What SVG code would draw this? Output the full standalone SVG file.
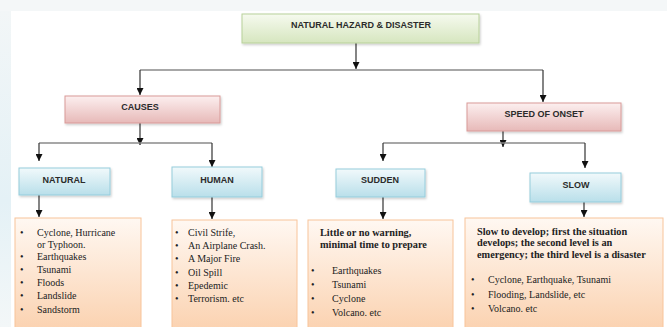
<svg xmlns="http://www.w3.org/2000/svg" width="667" height="327" viewBox="0 0 667 327">
<defs>
<linearGradient id="gGreen" x1="0" y1="0" x2="0" y2="1"><stop offset="0" stop-color="#f6faef"/><stop offset="1" stop-color="#d6e6bf"/></linearGradient>
<linearGradient id="gRed" x1="0" y1="0" x2="0" y2="1"><stop offset="0" stop-color="#fcefef"/><stop offset="1" stop-color="#e7b9b8"/></linearGradient>
<linearGradient id="gBlue" x1="0" y1="0" x2="0" y2="1"><stop offset="0" stop-color="#f1f9fb"/><stop offset="1" stop-color="#b9dfea"/></linearGradient>
<linearGradient id="gOrange" x1="0" y1="0" x2="0" y2="1"><stop offset="0" stop-color="#fff8f2"/><stop offset="1" stop-color="#fbd2b0"/></linearGradient>
<linearGradient id="gLeft" x1="0" y1="0" x2="0" y2="1"><stop offset="0" stop-color="#f2f6f7"/><stop offset="0.6" stop-color="#e4f1f6"/><stop offset="1" stop-color="#f3f7f8"/></linearGradient>
<filter id="sh" x="-10%" y="-20%" width="130%" height="150%"><feDropShadow dx="1" dy="1.5" stdDeviation="1" flood-color="#000" flood-opacity="0.2"/></filter>
<marker id="ah" viewBox="0 0 10 10" refX="10" refY="5" markerWidth="7" markerHeight="7" orient="auto" markerUnits="userSpaceOnUse"><path d="M0,0 L10,5 L0,10 z" fill="#111"/></marker>
</defs>
<style>
.lbl{font-family:"Liberation Sans",Arial,sans-serif;font-weight:bold;font-size:9px;fill:#2b2b2b;text-anchor:middle}
.txt{font-family:"Liberation Serif","Times New Roman",serif;font-size:10px;fill:#222}
.bold{font-family:"Liberation Serif","Times New Roman",serif;font-size:10.3px;font-weight:bold;fill:#222}
.green{fill:url(#gGreen);stroke:#b8d19a;stroke-width:1}
.red{fill:url(#gRed);stroke:#d99a98;stroke-width:1}
.blue{fill:url(#gBlue);stroke:#95cddc;stroke-width:1}
.orange{fill:url(#gOrange);stroke:#f8c49a;stroke-width:1}
.hl{fill:none;stroke:#8a8a8a;stroke-width:1.5}
.arr{fill:none;stroke:#333;stroke-width:1.2;marker-end:url(#ah)}
</style>
<rect x="0" y="0" width="667" height="327" fill="#f4f7f8"/>
<rect x="0" y="11" width="11" height="316" fill="url(#gLeft)"/>
<rect x="11" y="11" width="656" height="316" fill="#ffffff"/>

<g id="connectors">
<path class="arr" d="M356,43 V69"/>
<path class="hl" d="M140,70 H543"/>
<path class="arr" d="M140,70 V95"/>
<path class="arr" d="M543,70 V102"/>
<path class="arr" d="M140,123 V145"/>
<path class="hl" d="M39,143 H212"/>
<path class="arr" d="M39,143 V161"/>
<path class="arr" d="M212,143 V167"/>
<path class="arr" d="M503,131 V147"/>
<path class="hl" d="M383,143 H585"/>
<path class="arr" d="M383,143 V161"/>
<path class="arr" d="M585,143 V168"/>
<path class="arr" d="M39,195 V217"/>
<path class="arr" d="M212,197 V219"/>
<path class="arr" d="M383,197 V219"/>
<path class="arr" d="M584,202 V217"/>
</g>

<g id="n-root"><rect class="green" x="242" y="14" width="237" height="29" filter="url(#sh)"/><text class="lbl" x="361" y="28">NATURAL HAZARD &amp; DISASTER</text></g>
<g id="n-causes"><rect class="red" x="65" y="96" width="155" height="27" filter="url(#sh)"/><text class="lbl" x="140" y="110">CAUSES</text></g>
<g id="n-speed"><rect class="red" x="467" y="103" width="154" height="28" filter="url(#sh)"/><text class="lbl" x="544" y="117">SPEED OF ONSET</text></g>
<g id="n-natural"><rect class="blue" x="19" y="168" width="91" height="27" filter="url(#sh)"/><text class="lbl" x="64" y="183">NATURAL</text></g>
<g id="n-human"><rect class="blue" x="172" y="167" width="90" height="30" filter="url(#sh)"/><text class="lbl" x="217" y="183">HUMAN</text></g>
<g id="n-sudden"><rect class="blue" x="336" y="169" width="89" height="28" filter="url(#sh)"/><text class="lbl" x="380" y="183">SUDDEN</text></g>
<g id="n-slow"><rect class="blue" x="530" y="173" width="91" height="29" filter="url(#sh)"/><text class="lbl" x="576" y="188">SLOW</text></g>

<g id="n-natural-list"><rect class="orange" x="15" y="218" width="126" height="112"/>
<g class="txt">
<text x="20" y="236">•</text><text x="37" y="236">Cyclone, Hurricane</text>
<text x="37" y="248">or Typhoon.</text>
<text x="20" y="260">•</text><text x="37" y="260">Earthquakes</text>
<text x="20" y="273">•</text><text x="37" y="273">Tsunami</text>
<text x="20" y="286">•</text><text x="37" y="286">Floods</text>
<text x="20" y="299">•</text><text x="37" y="299">Landslide</text>
<text x="20" y="313">•</text><text x="37" y="313">Sandstorm</text>
</g></g>

<g id="n-human-list"><rect class="orange" x="172" y="220" width="125" height="110"/>
<g class="txt">
<text x="175" y="236">•</text><text x="188" y="236">Civil Strife,</text>
<text x="175" y="249">•</text><text x="188" y="249">An Airplane Crash.</text>
<text x="175" y="262">•</text><text x="188" y="262">A Major Fire</text>
<text x="175" y="276">•</text><text x="188" y="276">Oil Spill</text>
<text x="175" y="289">•</text><text x="188" y="289">Epedemic</text>
<text x="175" y="302">•</text><text x="188" y="302">Terrorism. etc</text>
</g></g>

<g id="n-sudden-list"><rect class="orange" x="308" y="220" width="145" height="110"/>
<text class="bold" x="320" y="236">Little or no warning,</text>
<text class="bold" x="320" y="248">minimal time to prepare</text>
<g class="txt">
<text x="311" y="274">•</text><text x="332" y="274">Earthquakes</text>
<text x="311" y="288">•</text><text x="332" y="288">Tsunami</text>
<text x="311" y="302">•</text><text x="332" y="302">Cyclone</text>
<text x="311" y="316">•</text><text x="332" y="316">Volcano. etc</text>
</g></g>

<g id="n-slow-list"><rect class="orange" x="465" y="218" width="198" height="112"/>
<text class="bold" x="477" y="235">Slow to develop; first the situation</text>
<text class="bold" x="477" y="246">develops; the second level is an</text>
<text class="bold" x="477" y="258">emergency; the third level is a disaster</text>
<g class="txt">
<text x="471" y="283">•</text><text x="488" y="283">Cyclone, Earthquake, Tsunami</text>
<text x="471" y="298">•</text><text x="488" y="298">Flooding, Landslide, etc</text>
<text x="471" y="312">•</text><text x="488" y="312">Volcano. etc</text>
</g></g>
</svg>
